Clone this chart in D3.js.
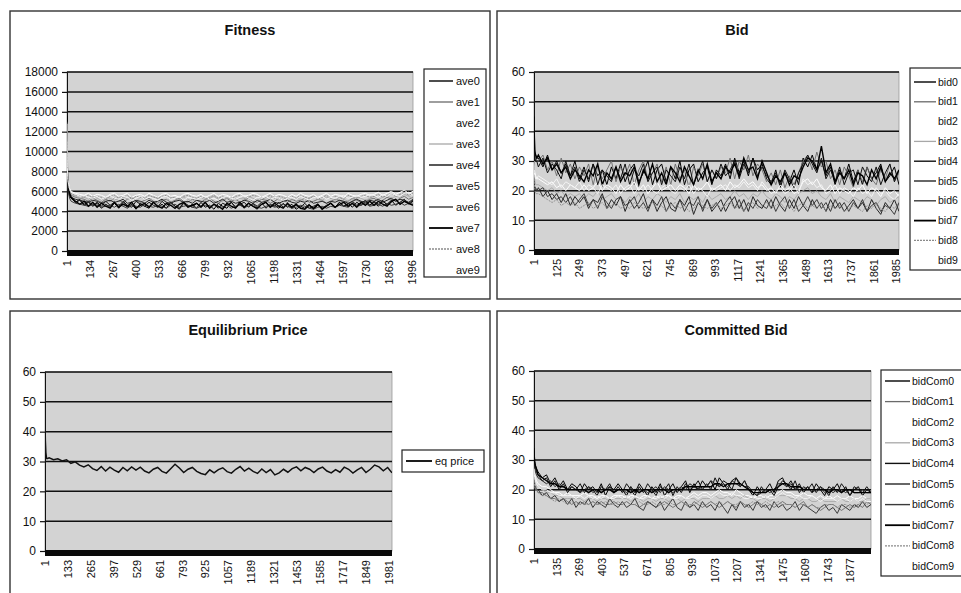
<!DOCTYPE html>
<html>
<head>
<meta charset="utf-8">
<script src="https://cdn.jsdelivr.net/npm/d3@7"></script>
<style>
  html, body { margin: 0; padding: 0; background: #fff; }
  svg { display: block; font-family: "Liberation Sans", Arial, sans-serif; }
</style>
</head>
<body>
<svg id="chart" width="961" height="593"></svg>
<script>
// Generations at which every series is sampled (dense at the start, then every 25).
const gens = [1, 3, 6, 10, 16].concat(d3.range(25, 2001, 25));

// ---- Fitness (average fitness per agent) ----
const ave0 = [13400,8300,6900,6200,5600,
  5300,4900,5100,4600,4900,4500,4800,4300,4700,4400,
  4800,4300,4900,4400,4700,4200,4800,4500,4300,4900,
  4400,4700,4300,4900,4500,4200,4800,4400,4700,4300,
  4900,4400,4600,4200,4800,4500,4300,4900,4400,4700,
  4300,4800,4500,4200,4700,4900,4400,4600,4300,4800,
  4400,4700,4200,4500,4300,4700,4200,4600,4300,4500,
  4800,4400,4900,4500,4800,4400,4900,4600,5000,4600,
  4900,4500,5000,4700,5100,4600,4900,5200,4700,5000];
const ave1 = [12000,8000,7100,6500,6000,
  5600,5400,5300,5200,5000,5300,5100,4900,5200,5000,
  5300,5100,4900,5200,5400,5000,4900,5100,5300,5000,
  4800,5100,5200,4900,5100,5300,5000,4900,5200,5100,
  4900,5200,5300,5000,4800,5100,5300,5000,5200,4900,
  5100,5300,5000,4900,5200,5100,4800,5000,5300,5100,
  4900,5200,5000,5100,5300,4900,5000,5200,5100,4800,
  5000,5200,5100,4900,5000,5300,5100,4900,5000,5200,
  5300,5000,5100,5400,5200,5000,5300,5500,5200,5400];
const ave2 = [13000,8600,7300,6800,6300,
  6000,5800,5700,5600,5800,5500,5700,5600,5400,5700,
  5800,5500,5600,5800,5400,5600,5700,5500,5800,5600,
  5400,5700,5800,5500,5600,5400,5700,5800,5600,5500,
  5700,5400,5600,5800,5500,5700,5600,5400,5700,5800,
  5500,5600,5800,5700,5400,5600,5800,5500,5700,5600,
  5400,5700,5500,5800,5600,5500,5700,5400,5600,5800,
  5500,5700,5600,5400,5800,5600,5500,5700,5800,5600,
  5700,5900,5600,5800,6000,5700,5900,6100,5800,6000];
const ave3 = [11500,7800,6800,6300,5900,
  5700,5500,5300,5400,5200,5500,5300,5100,5400,5300,
  5100,5400,5500,5200,5300,5000,5400,5300,5100,5500,
  5300,5200,5000,5400,5300,5100,5400,5200,5000,5300,
  5400,5100,5300,5500,5200,5000,5300,5400,5100,5300,
  5200,5500,5300,5100,5400,5200,5300,5500,5100,5200,
  5400,5100,5300,5200,5000,5300,5500,5200,5100,5400,
  5300,5100,5400,5200,5000,5200,5400,5300,5100,5300,
  5500,5200,5400,5600,5300,5500,5400,5700,5500,5300];
const ave4 = [10500,7600,6500,6000,5500,
  5300,4900,5200,4700,5000,4600,4900,4500,5000,4600,
  4900,4500,5000,4600,4400,5000,4700,4500,4900,4600,
  4400,5000,4600,4900,4500,4300,4900,4600,4400,4800,
  4500,4900,4400,4700,4300,4800,4600,4900,4400,4700,
  4900,4400,4800,4500,4900,4300,4700,4500,4900,4400,
  4700,4300,4600,4400,4800,4300,4500,4700,4300,4600,
  4800,4400,4900,4500,4700,5000,4600,4800,5100,4600,
  5000,4700,5100,4600,4900,5200,4700,5000,4800,5100];
const ave5 = [12500,8200,6700,6100,5700,
  5400,5200,5100,5000,4900,5100,5000,4800,5000,5100,
  4900,5000,5200,4800,4900,5100,5000,4800,5100,4900,
  5000,5200,4900,4800,5000,5100,4900,5000,4800,5100,
  5000,4900,5100,4800,5000,5200,4900,5000,4800,4900,
  5100,5000,4800,5100,4900,5000,5200,4900,4800,5000,
  5100,4900,4800,5000,4900,5100,4800,4900,5000,4800,
  5000,4900,5100,5000,4800,5000,5200,5000,4900,5100,
  5000,5200,4900,5100,5300,5000,5200,5100,4900,5200];
const ave6 = [9500,7400,6400,5800,5300,
  5000,4800,4700,4600,4500,4700,4600,4400,4500,4600,
  4400,4700,4500,4300,4600,4500,4400,4700,4500,4400,
  4600,4500,4300,4600,4700,4400,4500,4600,4400,4300,
  4500,4600,4400,4700,4500,4400,4600,4300,4500,4600,
  4400,4500,4700,4400,4300,4500,4600,4400,4500,4700,
  4500,4300,4400,4600,4500,4300,4200,4400,4500,4300,
  4500,4400,4600,4500,4400,4700,4500,4600,4800,4500,
  4600,4700,4500,4800,4600,4700,4900,4600,4800,4700];
const ave7 = [13600,8500,7000,6300,5800,
  5400,5000,4700,5000,4500,4900,4400,4800,4500,4300,
  4900,4400,4700,4500,4900,4300,4600,4800,4400,4900,
  4500,4300,4800,4600,4300,4700,4900,4400,4600,4800,
  4400,4900,4300,4700,4500,4200,4800,4500,4300,4900,
  4400,4800,4500,4300,4700,4900,4400,4800,4500,4300,
  4800,4400,4700,4300,4200,4600,4300,4700,4200,4500,
  4800,4400,4700,4900,4500,4800,4400,4900,4600,5000,
  4600,5000,4700,4500,5000,5200,4700,5000,4800,4600];
const ave8 = [11000,7900,7000,6600,6100,
  5800,5600,5500,5400,5600,5300,5500,5400,5200,5500,
  5600,5300,5400,5600,5200,5500,5400,5300,5600,5400,
  5300,5500,5600,5300,5400,5200,5500,5600,5400,5300,
  5500,5300,5400,5600,5300,5500,5400,5200,5500,5600,
  5300,5400,5600,5500,5200,5400,5600,5300,5500,5400,
  5200,5500,5300,5600,5400,5300,5500,5200,5400,5600,
  5300,5500,5400,5200,5600,5400,5300,5500,5600,5400,
  5500,5700,5400,5600,5800,5500,5700,5900,5600,5800];
const ave9 = [12800,8400,7200,6700,6200,
  5900,5700,5500,5600,5400,5300,5500,5200,5400,5600,
  5300,5200,5500,5400,5100,5300,5500,5200,5400,5300,
  5100,5400,5500,5200,5300,5500,5100,5400,5300,5200,
  5400,5500,5200,5300,5100,5400,5500,5300,5200,5400,
  5600,5300,5100,5400,5300,5500,5200,5400,5300,5100,
  5300,5400,5200,5500,5300,5100,5400,5300,5500,5200,
  5400,5300,5500,5600,5300,5400,5600,5400,5500,5700,
  5600,5400,5700,5500,5800,5600,5500,5800,5900,5600];

// ---- Bid ----
const bid0 = [36,34,33,32,31,
  31,28,32,27,30,26,29,25,30,24, 28,23,29,25,27,22,28,24,29,23,
  27,29,23,26,30,22,27,29,23,28, 24,30,22,27,29,23,26,28,22,27,
  25,29,24,31,26,30,25,31,27,29, 24,22,27,21,26,23,27,22,31,28,
  32,27,30,25,28,22,27,24,29,23, 27,22,28,24,26,29,23,25,28,22];
const bid1 = [34,33,32,31,30,
  30,32,27,30,25,31,26,29,24,28, 25,29,22,28,24,27,30,23,28,25,
  29,22,27,30,24,26,29,23,28,22, 29,24,27,21,28,25,29,23,27,24,
  28,26,31,24,30,27,32,25,29,27, 23,26,22,27,21,25,22,26,30,32,
  27,33,28,30,24,27,22,28,25,21, 27,23,28,24,22,27,24,29,23,26];
const bid2 = [30,27,26,25,24,
  24,23,22,23,21,22,20,22,21,20, 22,20,21,23,20,22,21,19,22,20,
  21,23,20,22,19,21,23,20,21,22, 20,22,21,19,22,20,21,23,20,21,
  22,20,23,21,22,24,22,23,21,22, 20,21,19,22,20,21,19,20,23,24,
  22,24,21,20,22,19,21,20,19,21, 20,22,19,21,20,18,21,19,20,18];
const bid3 = [28,25,23,22,22,
  22,21,20,21,19,20,18,19,18,19, 17,19,18,20,17,18,19,17,18,16,
  18,17,19,16,18,17,19,18,16,18, 17,19,16,18,17,18,16,19,17,18,
  19,17,18,20,18,19,17,19,18,20, 18,17,19,18,16,18,17,19,20,21,
  19,20,18,17,19,16,18,17,16,18, 17,16,18,17,15,17,18,16,17,18];
const bid4 = [33,32,31,30,30,
  28,31,26,29,27,24,30,25,28,23, 27,24,29,22,27,25,23,28,24,29,
  22,27,25,29,23,26,28,22,27,25, 23,28,24,29,22,26,30,23,27,24,
  29,25,27,30,24,29,26,31,25,28, 25,23,26,22,27,24,21,26,29,32,
  29,26,31,24,27,23,28,22,26,27, 22,28,25,23,28,22,26,29,23,27];
const bid5 = [22,21,21,20,20,
  21,18,20,17,19,16,19,15,18,16, 18,14,17,16,19,14,17,15,18,13,
  17,14,16,19,14,17,13,16,18,14, 13,17,15,18,12,16,14,17,13,15,
  17,13,16,18,14,17,13,18,15,14, 17,14,18,15,13,17,14,18,15,13,
  17,14,16,13,17,14,16,13,15,17, 14,16,13,17,14,12,16,14,17,13];
const bid6 = [23,22,21,21,20,
  20,21,18,19,17,18,16,18,15,17, 19,15,17,14,18,16,14,17,18,15,
  16,18,14,16,13,17,15,18,13,16, 14,17,13,16,15,18,13,17,14,16,
  13,16,18,14,17,13,16,14,17,15, 14,17,13,16,18,14,17,13,15,18,
  15,17,14,16,13,17,14,16,13,16, 14,17,13,15,16,13,15,14,12,16];
const bid7 = [45,38,33,32,31,
  32,29,31,27,29,26,28,24,27,25, 23,27,25,29,22,26,24,28,23,26,
  25,28,22,27,24,29,23,26,22,28, 26,23,28,25,22,27,24,29,23,26,
  24,28,26,29,25,31,27,28,24,30, 26,22,25,23,26,22,25,24,28,31,
  30,27,35,26,29,23,26,24,27,22, 26,25,22,27,24,28,23,26,24,27];
const bid8 = [25,22,20,19,19,
  19,18,17,16,17,15,16,15,16,14, 15,16,14,15,16,14,15,16,14,15,
  14,16,15,14,15,16,14,15,13,15, 16,14,15,13,14,16,15,14,15,16,
  14,15,16,14,15,13,15,16,14,15, 16,14,15,16,14,15,13,15,16,14,
  15,14,16,13,15,14,15,13,14,15, 14,13,15,14,16,14,13,15,14,16];
const bid9 = [27,26,25,24,24,
  25,24,23,22,24,21,23,22,21,23, 20,22,21,19,22,21,20,22,19,21,
  22,19,21,20,22,20,19,21,22,20, 19,21,20,22,19,21,20,18,21,20,
  21,22,20,22,21,23,21,22,20,23, 21,19,20,21,19,20,22,19,24,22,
  23,21,22,19,20,22,19,21,20,18, 21,19,20,18,21,19,20,18,17,19];

// ---- Equilibrium price ----
const eqPrice = [43,37,33,31,31,
  31.2,30.6,30.9,30.2,30.6,29.4,29.9,28.8,28.2,28.9,
  27.6,27.0,28.3,26.8,28.1,27.1,26.4,28.0,26.9,28.2,
  27.1,28.1,26.8,26.2,27.4,28.0,26.7,26.1,27.6,29.1,
  27.8,26.3,27.4,28.0,26.7,26.0,25.6,27.2,26.2,27.3,
  27.9,26.6,26.1,27.4,28.3,26.8,27.8,26.7,26.0,27.5,
  26.3,27.3,25.5,26.2,27.4,26.4,27.6,28.2,26.9,28.0,
  27.4,26.3,27.5,28.1,26.8,26.2,27.3,26.4,28.1,27.4,
  26.1,27.2,28.0,26.3,27.4,28.8,28.2,26.9,28.0,26.2];

// ---- Committed bid ----
const bidCom0 = [33,30,29,28,27,
  26,24,25,22,24,21,23,20,22,21, 19,22,20,21,19,22,18,21,20,22,
  20,18,21,19,22,20,18,21,19,22, 18,20,22,19,21,23,19,22,20,23,
  21,23,20,24,22,20,23,24,21,23, 20,18,21,19,20,22,19,23,24,21,
  23,20,22,19,21,19,22,20,18,21, 20,22,19,21,18,20,21,18,20,19];
const bidCom1 = [24,22,21,20,20,
  19,19,18,17,17,16,17,16,15,16, 15,16,15,16,15,16,15,15,16,15,
  15,16,15,15,14,15,16,15,14,15, 16,15,14,15,16,15,14,16,15,14,
  15,16,15,14,15,16,15,14,16,15, 14,15,16,15,14,15,14,15,16,15,
  15,14,15,16,14,15,14,13,14,15, 15,14,13,14,15,14,15,14,16,15];
const bidCom2 = [28,26,25,24,23,
  22,21,21,20,19,19,18,19,18,18, 18,19,18,18,17,18,18,17,18,18,
  18,17,18,18,17,18,18,17,18,17, 18,18,17,18,18,17,18,19,18,19,
  19,18,19,20,19,19,18,20,19,18, 18,17,18,18,17,18,18,19,20,19,
  19,18,18,19,18,18,17,18,17,18, 17,18,17,17,18,17,17,18,17,17];
const bidCom3 = [26,24,23,22,21,
  21,20,19,19,18,18,17,17,17,17, 17,16,17,17,16,17,17,16,17,17,
  17,17,16,17,17,16,17,17,16,17, 17,16,17,17,16,17,17,17,16,17,
  17,17,18,17,17,18,17,18,17,18, 17,17,16,17,17,16,17,18,18,18,
  17,17,16,17,17,16,16,17,16,16, 16,16,17,16,16,17,16,16,17,17];
const bidCom4 = [31,29,28,27,26,
  25,23,24,21,23,20,22,19,21,20, 22,19,21,20,18,21,20,22,19,21,
  19,22,20,18,21,19,22,20,18,21, 20,22,18,21,19,22,20,21,23,20,
  22,20,24,21,23,22,20,24,22,21, 21,19,18,21,19,20,18,21,23,22,
  20,23,19,21,20,22,19,21,20,18, 21,19,22,20,18,21,20,19,21,19];
const bidCom5 = [30,28,27,26,25,
  24,23,22,23,21,22,21,20,21,20, 19,20,21,19,20,19,20,21,19,20,
  20,19,21,19,20,20,19,20,21,19, 21,20,19,20,21,20,22,21,20,21,
  21,23,22,21,22,21,23,22,21,23, 20,19,18,19,20,19,20,22,22,21,
  22,20,21,20,21,19,20,21,19,20, 19,20,20,19,20,19,19,20,19,19];
const bidCom6 = [23,22,21,21,20,
  20,18,19,17,18,16,17,15,17,14, 16,15,17,14,16,15,14,17,15,14,
  16,14,15,17,14,13,16,15,14,16, 13,15,17,14,13,16,14,15,13,16,
  14,15,13,16,14,12,15,13,16,14, 15,13,16,14,15,13,16,14,15,13,
  14,16,13,15,14,13,12,14,15,13, 14,12,15,14,13,15,14,16,14,15];
const bidCom7 = [34,31,29,28,27,
  25,24,23,22,22,21,21,20,20,20, 20,20,19,20,20,19,20,20,19,20,
  20,20,19,20,19,20,20,19,20,20, 20,19,20,20,20,21,21,21,21,21,
  21,21,22,22,21,22,22,22,22,21, 20,19,19,19,19,20,20,21,22,22,
  21,21,21,20,20,20,20,20,20,19, 20,20,19,20,20,19,19,19,19,19];
const bidCom8 = [25,22,21,20,20,
  19,18,18,17,16,17,16,15,16,15, 16,15,15,16,15,15,16,15,15,16,
  15,16,15,15,16,15,15,16,15,15, 15,16,15,15,16,15,15,15,16,15,
  15,16,15,16,15,16,15,15,16,15, 15,16,15,15,16,15,15,16,15,15,
  15,14,15,15,14,15,14,14,15,15, 15,14,15,15,14,15,15,16,15,16];
const bidCom9 = [27,25,24,23,22,
  21,20,20,19,19,18,18,18,18,17, 18,17,18,17,18,17,18,17,17,18,
  17,18,17,18,17,17,18,17,17,18, 17,18,17,17,18,17,17,18,17,18,
  18,17,18,19,18,18,19,18,18,17, 17,18,17,17,18,17,17,18,19,18,
  18,17,18,17,17,18,17,16,17,17, 17,16,17,17,16,17,16,17,16,16];

// Tick labels on the category axes
const fitnessTicks = [1,134,267,400,533,666,799,932,1065,1198,1331,1464,1597,1730,1863,1996];
const bidTicks = [1,125,249,373,497,621,745,869,993,1117,1241,1365,1489,1613,1737,1861,1985];
const eqTicks = [1,133,265,397,529,661,793,925,1057,1189,1321,1453,1585,1717,1849,1981];
const comTicks = [1,135,269,403,537,671,805,939,1073,1207,1341,1475,1609,1743,1877];

const fitnessY = d3.range(0, 18001, 2000);
const priceY = d3.range(0, 61, 10);

// Line styles shared by the ten-agent panels (Excel-like grey palette)
const agentStyles = [
  { color: "#000", width: 1.0, dash: null },
  { color: "#6a6a6a", width: 0.9, dash: null },
  { color: "#ffffff", width: 1.0, dash: null },
  { color: "#a8a8a8", width: 0.9, dash: null },
  { color: "#111", width: 1.0, dash: null },
  { color: "#262626", width: 1.0, dash: null },
  { color: "#3a3a3a", width: 1.0, dash: null },
  { color: "#000", width: 1.4, dash: null },
  { color: "#8a8a8a", width: 0.9, dash: "2,1" },
  { color: "#f4f4f4", width: 1.0, dash: null }
];

const svg = d3.select("#chart");

function drawPanel(cfg) {
  const g = svg.append("g");

  // outer chart frame
  g.append("rect")
    .attr("x", cfg.frame[0]).attr("y", cfg.frame[1])
    .attr("width", cfg.frame[2]).attr("height", cfg.frame[3])
    .attr("fill", "#fff").attr("stroke", "#333").attr("stroke-width", 1.4);

  g.append("text")
    .attr("x", cfg.titleX).attr("y", cfg.titleY)
    .attr("text-anchor", "middle")
    .attr("font-size", 14.5).attr("font-weight", "bold").attr("fill", "#111")
    .text(cfg.title);

  const p = cfg.plot;
  const x = d3.scaleLinear().domain([1, 2000]).range([p.x0, p.x1]);
  const y = d3.scaleLinear().domain([0, cfg.yMax]).range([p.y1, p.y0]);

  // plot area
  g.append("rect")
    .attr("x", p.x0).attr("y", p.y0)
    .attr("width", p.x1 - p.x0).attr("height", p.y1 - p.y0)
    .attr("fill", "#d3d3d3").attr("stroke", "#9a9a9a").attr("stroke-width", 0.8);

  // horizontal gridlines
  g.append("g").selectAll("line").data(cfg.yTicks.filter(v => v > 0)).join("line")
    .attr("x1", p.x0).attr("x2", p.x1)
    .attr("y1", d => y(d)).attr("y2", d => y(d))
    .attr("stroke", "#111").attr("stroke-width", 1.5);

  // value axis
  const yAxis = g.append("g")
    .attr("transform", `translate(${p.x0},0)`)
    .call(d3.axisLeft(y).tickValues(cfg.yTicks).tickSize(5).tickPadding(4).tickFormat(d3.format("d")));
  yAxis.select(".domain").attr("stroke", "#111").attr("stroke-width", 1);
  yAxis.selectAll(".tick line").attr("stroke", "#111").attr("stroke-width", 1.2);
  yAxis.selectAll(".tick text")
    .attr("font-size", 12).attr("fill", "#111")
    .attr("font-family", "Liberation Sans, Arial, sans-serif");

  // series lines
  const clipId = "clip-" + cfg.id;
  g.append("clipPath").attr("id", clipId).append("rect")
    .attr("x", p.x0).attr("y", p.y0 - 1)
    .attr("width", p.x1 - p.x0).attr("height", p.y1 - p.y0 + 1);
  const line = d3.line().x((d, i) => x(gens[i])).y(d => y(d));
  const lines = g.append("g").attr("clip-path", `url(#${clipId})`);
  cfg.series.forEach(s => {
    lines.append("path")
      .attr("d", line(s.values))
      .attr("fill", "none")
      .attr("stroke", s.style.color)
      .attr("stroke-width", s.style.width)
      .attr("stroke-dasharray", s.style.dash)
      .attr("stroke-linejoin", "miter");
  });

  // category axis: dense tick marks merge into a solid band
  g.append("rect")
    .attr("x", p.x0).attr("y", p.y1 - 1)
    .attr("width", p.x1 - p.x0).attr("height", 6)
    .attr("fill", "#0a0a0a");

  const xAxis = g.append("g")
    .attr("transform", `translate(0,${p.y1 + 9})`)
    .call(d3.axisBottom(x).tickValues(cfg.xTicks).tickSize(0).tickFormat(d3.format("d")));
  xAxis.select(".domain").remove();
  xAxis.selectAll(".tick text")
    .attr("font-size", 11).attr("fill", "#111")
    .attr("font-family", "Liberation Sans, Arial, sans-serif")
    .attr("transform", "rotate(-90)")
    .attr("text-anchor", "end")
    .attr("x", 0).attr("y", 0).attr("dy", "0.32em");

  // legend
  const L = cfg.legend;
  g.append("rect")
    .attr("x", L.x).attr("y", L.y).attr("width", L.w).attr("height", L.h)
    .attr("fill", "#fff").attr("stroke", "#222").attr("stroke-width", 1.2);
  cfg.series.forEach((s, i) => {
    const cy = L.row0 + i * L.step;
    g.append("line")
      .attr("x1", L.lx0).attr("x2", L.lx1).attr("y1", cy).attr("y2", cy)
      .attr("stroke", s.style.color === "#f4f4f4" ? "#fff" : s.style.color)
      .attr("stroke-width", Math.max(1.2, s.style.width + 0.4))
      .attr("stroke-dasharray", s.style.dash);
    g.append("text")
      .attr("x", L.tx).attr("y", cy).attr("dy", "0.35em")
      .attr("font-size", L.font).attr("fill", "#111")
      .text(s.name);
  });
}

const fitnessSeries = [ave0, ave1, ave2, ave3, ave4, ave5, ave6, ave7, ave8, ave9]
  .map((v, i) => ({ name: "ave" + i, values: v, style: agentStyles[i] }));
const bidSeries = [bid0, bid1, bid2, bid3, bid4, bid5, bid6, bid7, bid8, bid9]
  .map((v, i) => ({ name: "bid" + i, values: v, style: agentStyles[i] }));
const comSeries = [bidCom0, bidCom1, bidCom2, bidCom3, bidCom4, bidCom5, bidCom6, bidCom7, bidCom8, bidCom9]
  .map((v, i) => ({ name: "bidCom" + i, values: v, style: agentStyles[i] }));
const eqSeries = [{ name: "eq price", values: eqPrice, style: { color: "#111", width: 1.5, dash: null } }];

drawPanel({
  id: "fit", frame: [10, 11, 480, 288], title: "Fitness", titleX: 250, titleY: 35,
  plot: { x0: 67, x1: 413, y0: 72, y1: 251 }, yMax: 18000, yTicks: fitnessY, xTicks: fitnessTicks,
  series: fitnessSeries,
  legend: { x: 424, y: 69, w: 62, h: 208, row0: 81, step: 21, lx0: 429, lx1: 453, tx: 456, font: 11 }
});

drawPanel({
  id: "bid", frame: [497, 11, 480, 288], title: "Bid", titleX: 737, titleY: 35,
  plot: { x0: 534, x1: 899, y0: 72, y1: 250 }, yMax: 60, yTicks: priceY, xTicks: bidTicks,
  series: bidSeries,
  legend: { x: 910, y: 68, w: 70, h: 202, row0: 82, step: 19.8, lx0: 914, lx1: 936, tx: 938, font: 10.5 }
});

drawPanel({
  id: "eq", frame: [10, 311, 480, 300], title: "Equilibrium Price", titleX: 248, titleY: 335,
  plot: { x0: 45, x1: 392, y0: 372, y1: 551 }, yMax: 60, yTicks: priceY, xTicks: eqTicks,
  series: eqSeries,
  legend: { x: 402, y: 450, w: 82, h: 22, row0: 461, step: 20, lx0: 406, lx1: 432, tx: 435, font: 11 }
});

drawPanel({
  id: "com", frame: [497, 311, 480, 300], title: "Committed Bid", titleX: 736, titleY: 335,
  plot: { x0: 534, x1: 871, y0: 371, y1: 549 }, yMax: 60, yTicks: priceY, xTicks: comTicks,
  series: comSeries,
  legend: { x: 881, y: 370, w: 100, h: 206, row0: 381, step: 20.6, lx0: 885, lx1: 910, tx: 912, font: 10.5 }
});
</script>
</body>
</html>
